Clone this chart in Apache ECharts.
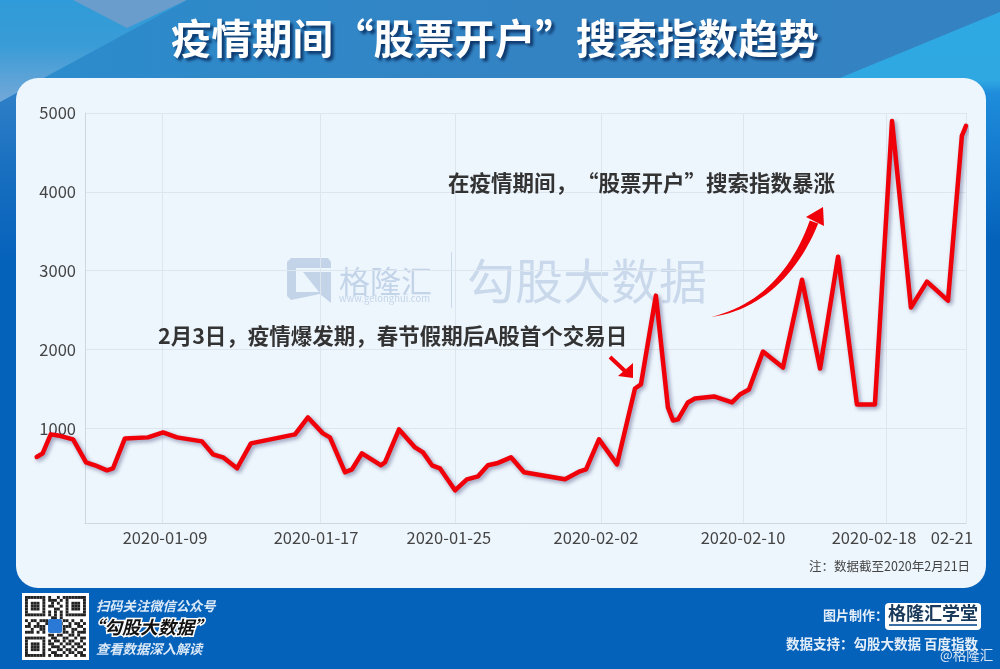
<!DOCTYPE html>
<html>
<head>
<meta charset="utf-8">
<style>
  html, body { margin: 0; padding: 0; background: #0562bb; }
  #chart { width: 1000px; height: 669px; }
</style>
<script src="https://cdn.jsdelivr.net/npm/echarts@6/dist/echarts.min.js"></script>
</head>
<body>
<div id="chart"></div>
<script>
const FONT = '"Noto Sans CJK SC", "Noto Sans", sans-serif';

// position along the axis (about one unit per day) and the search index read at it
const pointPos = [0.04, 0.37, 0.82, 1.22, 2.06, 2.78, 3.28, 3.94, 4.28, 4.94, 6.22, 7.06, 7.83, 9.22, 9.83, 10.39, 11.17, 11.94, 14.39, 15.11, 15.94, 16.33, 17.17, 17.56, 18.11, 19.17, 19.39, 20.17, 21.06, 21.5, 22, 22.44, 23.28, 23.94, 24.56, 25.11, 25.61, 26.39, 27.11, 29.39, 30.22, 30.56, 31.28, 32.28, 33.28, 33.61, 34.44, 35.11, 35.39, 35.67, 36.22, 36.61, 37.67, 38.67, 39.11, 39.61, 40.39, 41.5, 42.56, 43.56, 44.56, 45.61, 46.61, 47.56, 48.61, 49.5, 50.67, 51.44, 51.67];
const indexValues = [637, 684, 924, 911, 861, 570, 532, 468, 494, 873, 886, 949, 886, 835, 671, 633, 494, 810, 924, 1139, 937, 886, 443, 481, 684, 532, 570, 987, 759, 696, 532, 494, 215, 354, 392, 532, 557, 633, 443, 354, 456, 481, 861, 544, 1506, 1557, 2684, 1266, 1101, 1114, 1329, 1380, 1405, 1329, 1430, 1494, 1975, 1772, 2886, 1759, 3177, 1304, 1304, 4899, 2532, 2861, 2620, 4709, 4836];

const dateLabels = ['2020-01-09', '2020-01-17', '2020-01-25', '2020-02-02', '2020-02-10', '2020-02-18', '02-21'];
const labelPos = [7.17, 15.56, 22.94, 31.11, 39.28, 46.56, 50.89];
const gridLinePos = [7, 15.78, 23.28, 31.39, 39.28, 47.22, 51.67];
const yTicks = [1000, 2000, 3000, 4000, 5000];

// QR code look-alike for the footer
const qrRows = [
  '111111101001011111111', '100000101110101000001', '101110100101001011101',
  '101110101100101011101', '101110100011001011101', '100000101010101000001',
  '111111101010101111111', '000000000110100000000', '101101110011011010010',
  '010010011101100101101', '110111100000011100110', '001001100000010011001',
  '111010100000011010111', '000000001101100110100', '111111100110011001011',
  '100000101011010110010', '101110101100101101101', '101110100111010010110',
  '101110101001101101001', '100000100110010110110', '111111101011101001011'
];

let qrCells = [];
qrRows.forEach((row, r) => {
  row.split('').forEach((c, i) => {
    if (c === '1') {
      qrCells.push({ type: 'rect', z: -5, shape: { x: 25 + i * 2.9, y: 596 + r * 2.9, width: 2.9, height: 2.9 }, style: { fill: '#222' } });
    }
  });
});

function txt(x, y, text, font, fill, extra, z) {
  return {
    type: 'text', x: x, y: y, z: z === undefined ? -4 : z,
    style: Object.assign({ text: text, font: font, fill: fill, textVerticalAlign: 'middle', textBaseline: 'middle' }, extra || {})
  };
}

function vGrad(stops) {
  return { type: 'linear', x: 0, y: 0, x2: 0, y2: 1, colorStops: stops.map(s => ({ offset: s[0], color: s[1] })) };
}

// tapered body of the big curved arrow
function arrowShaft() {
  let upper = [], lower = [];
  for (let k = 0; k <= 24; k++) {
    let t = k / 24, u = 1 - t;
    let x = u * u * u * 711 + 3 * u * u * t * 760 + 3 * u * t * t * 795 + t * t * t * 814;
    let y = u * u * u * 317 + 3 * u * u * t * 308 + 3 * u * t * t * 272 + t * t * t * 222;
    let dx = 3 * u * u * 49 + 6 * u * t * 35 + 3 * t * t * 19;
    let dy = 3 * u * u * -9 + 6 * u * t * -36 + 3 * t * t * -50;
    let len = Math.sqrt(dx * dx + dy * dy);
    let w = 4.5 * Math.pow(t, 0.8);
    upper.push([x + dy / len * w, y - dx / len * w]);
    lower.unshift([x - dy / len * w, y + dx / len * w]);
  }
  return upper.concat(lower);
}

let decorations = [
  // header and frame background
  { type: 'rect', z: -20, shape: { x: 0, y: 0, width: 1000, height: 669 },
    style: { fill: vGrad([[0, '#2fa9e3'], [0.12, '#2fa8e2'], [0.14, '#1f8cdb'], [0.36, '#0562bb'], [1, '#0562bb']]) } },
  // left side below the header
  { type: 'polygon', z: -19, shape: { points: [[0, 102], [60, 70], [60, 260], [0, 260]] },
    style: { fill: vGrad([[0, '#3584ca'], [0.5, '#1a70c0'], [1, '#0562bb']]) } },
  // top left light triangle
  { type: 'polygon', z: -19, shape: { points: [[0, 0], [187, 0], [0, 102]] },
    style: { fill: vGrad([[0, '#2f9bd8'], [0.45, '#3a9cd6'], [1, '#74a8d8']]) } },
  { type: 'polygon', z: -18, shape: { points: [[73, 0], [187, 0], [127, 28]] }, style: { fill: '#6a9dcc' } },
  // dark header band
  { type: 'polygon', z: -18, shape: { points: [[187, 0], [1000, 0], [1000, 12], [835, 80], [40, 80]] },
    style: { fill: { type: 'linear', x: 0, y: 0, x2: 1, y2: 0, colorStops: [{ offset: 0, color: '#2c8ccc' }, { offset: 0.5, color: '#3383c3' }, { offset: 1, color: '#3482c1' }] } } },
  // white panel
  { type: 'rect', z: -10, shape: { x: 16, y: 78, width: 970, height: 510, r: 22 }, style: { fill: '#eef6fd' } },

  // faint watermark
  { type: 'polygon', z: -8, shape: { points: [[291, 258], [328, 258], [331, 262], [331, 268], [296, 268], [296, 292], [319, 292], [303, 272], [331, 272], [331, 303], [320, 294], [291, 300], [287, 296], [287, 262]] }, style: { fill: '#c3d4e9' } },
  txt(339, 281, '格隆汇', '31px ' + FONT, '#c3d4e9'),
  txt(339, 298, 'www.gelonghui.com', '9.5px ' + FONT, '#c3d4e9'),
  { type: 'rect', z: -8, shape: { x: 451, y: 252, width: 1, height: 56 }, style: { fill: '#c9d8ea' } },
  txt(467, 281, '勾股大数据', '48px ' + FONT, '#c9d9eb'),

  // annotations
  txt(448, 183, '在疫情期间，“股票开户”搜索指数暴涨', 'bold 21.5px ' + FONT, '#333', null, 10),
  txt(158, 336, '2月3日，疫情爆发期，春节假期后A股首个交易日', 'bold 21.5px ' + FONT, '#333', null, 10),
  { type: 'line', z: 10, shape: { x1: 610, y1: 357, x2: 626, y2: 372 }, style: { stroke: '#f00008', lineWidth: 4 } },
  { type: 'polygon', z: 10, shape: { points: [[633, 363], [633, 378], [618, 376]] }, style: { fill: '#f00008' } },
  { type: 'polygon', z: 10, shape: { points: arrowShaft() }, style: { fill: '#f00008' } },
  { type: 'polygon', z: 10, shape: { points: [[823, 207], [806, 217], [824, 226]] }, style: { fill: '#f00008' } },
  txt(809, 566, '注：数据截至2020年2月21日', '12.5px ' + FONT, '#444'),

  // footer
  { type: 'rect', z: -5, shape: { x: 22, y: 593, width: 67, height: 67 }, style: { fill: '#fff' } },
  { type: 'rect', z: -3, shape: { x: 48, y: 619, width: 14, height: 14, r: 2 }, style: { fill: '#2b79d6' } },
  txt(96, 606, '扫码关注微信公众号', 'italic bold 13.3px ' + FONT, '#dbe9f7'),
  txt(86, 627, '“勾股大数据”', 'italic bold 18px ' + FONT, '#111', { stroke: '#fff', lineWidth: 3 }),
  txt(96, 649, '查看数据深入解读', 'italic bold 13.3px ' + FONT, '#dbe9f7'),
  txt(823, 615, '图片制作：', 'bold 13px ' + FONT, '#e4eef9'),
  { type: 'rect', z: -5, shape: { x: 885, y: 603, width: 96, height: 27, r: 4 }, style: { fill: '#fff' } },
  txt(888, 613, '格隆汇学堂', 'bold 18px ' + FONT, '#1a3a5c'),
  { type: 'rect', z: -3, shape: { x: 889, y: 624, width: 88, height: 2 }, style: { fill: '#3a6ea5' } },
  txt(786, 644, '数据支持：勾股大数据 百度指数', 'bold 13.5px ' + FONT, '#e4eef9'),
  txt(940, 655, '@格隆汇', '13.5px ' + FONT, 'rgba(255,255,255,0.85)')
].concat(qrCells);

const chart = echarts.init(document.getElementById('chart'), null, { renderer: 'canvas' });

chart.setOption({
  animation: false,
  title: {
    text: '疫情期间“股票开户”搜索指数趋势',
    left: 166,
    top: 13,
    textStyle: {
      color: '#fff', fontFamily: FONT, fontWeight: 'bold', fontSize: 40.5,
      textShadowColor: 'rgba(5,40,90,0.85)', textShadowBlur: 3, textShadowOffsetX: 3, textShadowOffsetY: 3
    }
  },
  graphic: { elements: decorations },
  // the line starts left of the y axis, so it gets its own wider grid
  grid: [
    { left: 85, right: 34, top: 113, bottom: 146 },
    { left: 36, right: 34, top: 113, bottom: 146 }
  ],
  xAxis: [
    {
      gridIndex: 0, type: 'value', min: 2.72, max: 51.67,
      axisLine: { onZero: false, lineStyle: { color: '#cdd7e2' } },
      axisTick: { show: false }, axisLabel: { show: false }, splitLine: { show: false }
    },
    {
      gridIndex: 1, type: 'value', min: 0, max: 51.67,
      axisLine: { show: false },
      axisTick: { show: false, customValues: gridLinePos },
      axisLabel: {
        customValues: labelPos,
        margin: 6,
        color: '#444',
        fontFamily: FONT,
        fontSize: 16.5,
        formatter: function (v) { return dateLabels[labelPos.indexOf(v)]; }
      },
      splitLine: { show: true, lineStyle: { color: '#dde6ef', width: 1 } }
    }
  ],
  yAxis: [
    {
      gridIndex: 0, type: 'value', min: -200, max: 5000,
      axisLine: { show: true, onZero: false, lineStyle: { color: '#cdd7e2' } },
      axisTick: { show: false, customValues: yTicks },
      axisLabel: { customValues: yTicks, margin: 9, color: '#444', fontFamily: FONT, fontSize: 16.5, formatter: function (v) { return String(v); } },
      splitLine: { show: true, lineStyle: { color: '#dde6ef', width: 1 } }
    },
    {
      gridIndex: 1, type: 'value', min: -200, max: 5000,
      axisLine: { show: false }, axisTick: { show: false }, axisLabel: { show: false }, splitLine: { show: false }
    }
  ],
  series: [{
    type: 'line',
    xAxisIndex: 1,
    yAxisIndex: 1,
    data: pointPos.map((p, i) => [p, indexValues[i]]),
    showSymbol: false,
    z: 5,
    lineStyle: { color: '#f00008', width: 4.5, cap: 'round', join: 'round', shadowColor: 'rgba(30,30,90,0.45)', shadowBlur: 4, shadowOffsetX: 2, shadowOffsetY: 2 }
  }]
});
</script>
</body>
</html>
